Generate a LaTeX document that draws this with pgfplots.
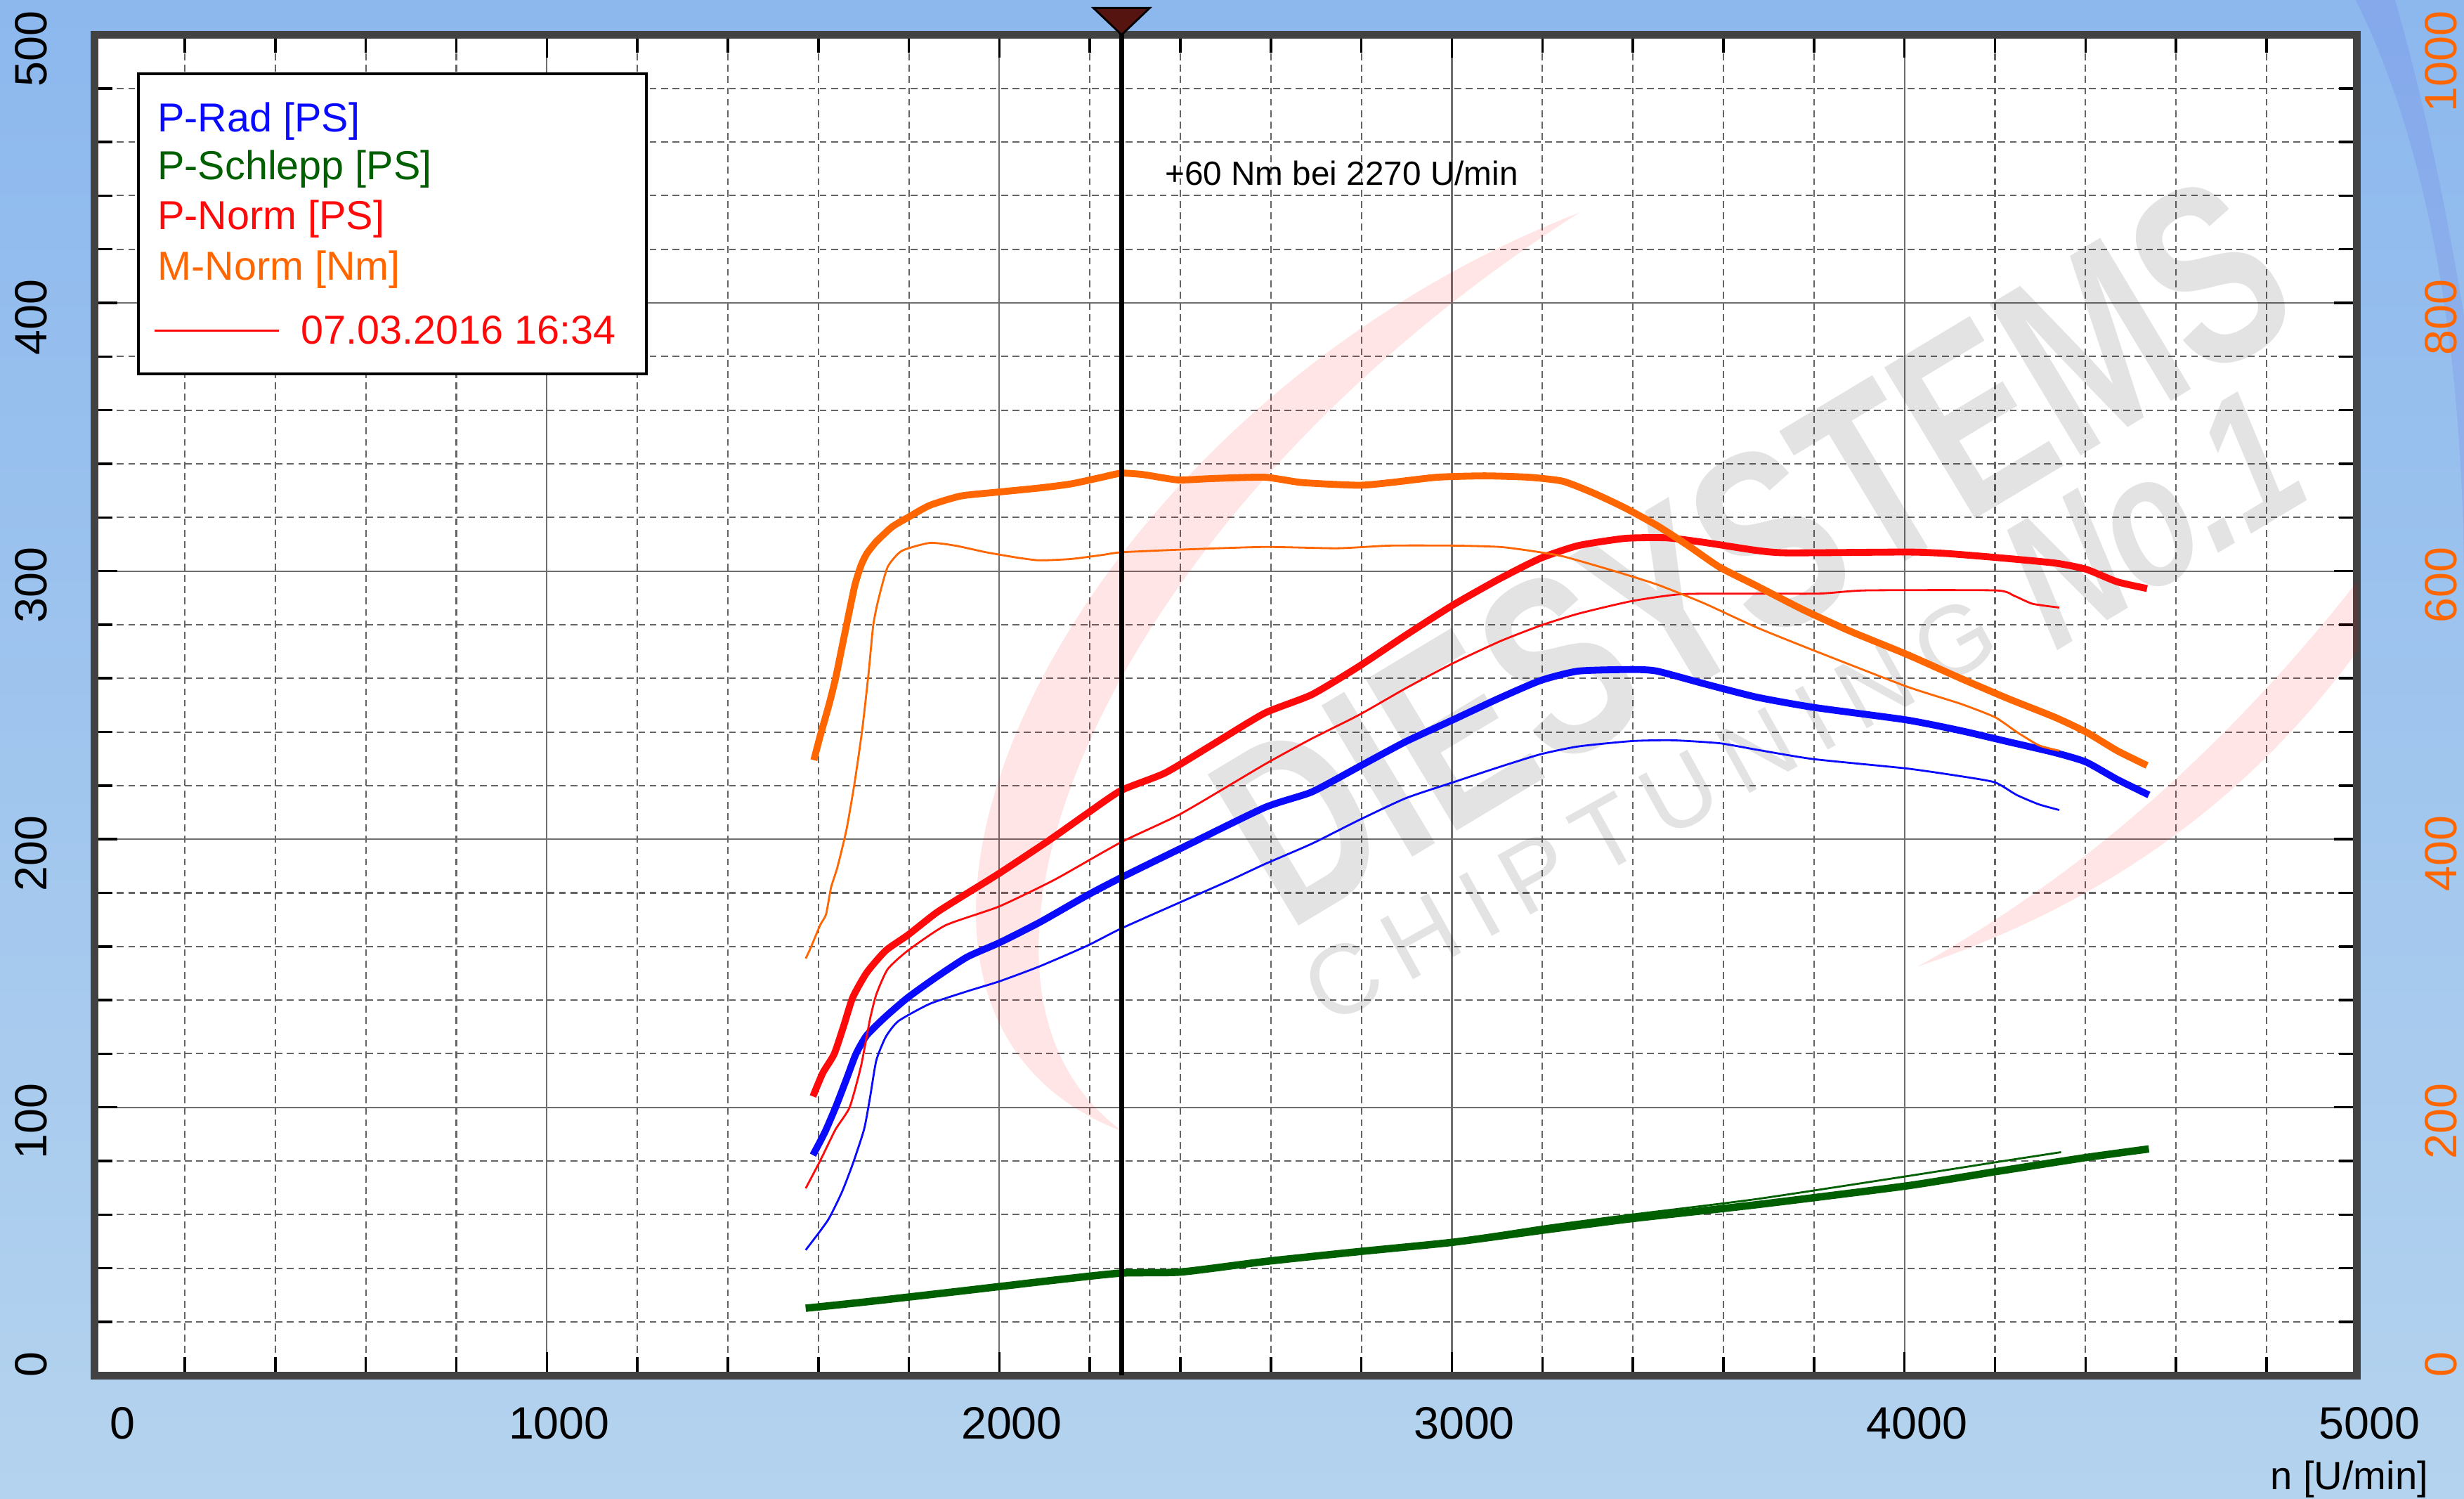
\documentclass[border=0pt]{standalone}
\usepackage{fontspec}
\setmainfont{Liberation Sans}
\usepackage{graphicx}
\usepackage{pgfplots}
\pgfplotsset{compat=1.18}

\definecolor{bgtop}{RGB}{140,184,238}
\definecolor{bgbot}{RGB}{180,211,238}
\definecolor{framec}{RGB}{66,66,66}
\definecolor{gridc}{RGB}{100,100,100}
\definecolor{majorc}{RGB}{110,110,110}
\definecolor{cRad}{RGB}{10,10,255}
\definecolor{cSch}{RGB}{0,95,0}
\definecolor{cNorm}{RGB}{255,10,10}
\definecolor{cM}{RGB}{255,102,0}
\definecolor{cursorc}{RGB}{85,20,15}

\begin{document}
\begin{tikzpicture}
% background
\fill[top color=bgtop, bottom color=bgbot] (0,0) rectangle (500pt,304pt);
\fill[blue!60!violet, opacity=0.08] (478pt,304pt) .. controls (500pt,260pt) and (500pt,200pt) .. (500pt,180pt)
  -- (500pt,240pt) .. controls (495pt,270pt) and (490pt,290pt) .. (486pt,304pt) -- cycle;

% power axis (PS)
\begin{axis}[
  at={(19.13pt,24.94pt)}, anchor=south west,
  scale only axis, width=459.16pt, height=272pt,
  xmin=0, xmax=5000, ymin=0, ymax=500,
  xtick={0,1000,...,5000}, minor xtick={200,400,...,4800},
  xticklabels={\hspace*{6.4pt}0,1000,2000,3000,4000,5000},
  ytick={0,100,...,500}, minor ytick={20,40,...,480},
  grid=both,
  major grid style={solid, majorc, line width=0.3pt},
  minor grid style={gridc, line width=0.3pt, dash pattern=on 1.4pt off 0.9pt},
  tick pos=both, tick align=inside,
  major tick length=4.7pt, minor tick length=3.7pt,
  tick style={black, line width=0.5pt},
  axis line style={framec, line width=1.6pt},
  axis background/.style={fill=white},
  ticklabel style={font=\fontsize{9.2}{10}\selectfont, inner sep=0pt},
  xticklabel style={anchor=center, yshift=-9.75pt, xshift=2.5pt},
  yticklabel style={xshift=-12.75pt, yshift=5pt, rotate=90, anchor=east},
  /pgf/number format/assume math mode=true,
  /pgf/number format/1000 sep={},
  clip=false,
]
% watermark
\fill[red, opacity=0.1] (axis cs:3282,433.7) .. controls (axis cs:2133,358.6) and (axis cs:1534,138) .. (axis cs:2274,90.9)
  .. controls (axis cs:1806,147.2) and (axis cs:2242,321.8) .. (axis cs:3282,433.7) -- cycle;
\fill[red, opacity=0.1] (axis cs:5000,296) .. controls (axis cs:4692,230) and (axis cs:4365,184) .. (axis cs:4029,152.5)
  .. controls (axis cs:4419,174.6) and (axis cs:4746,211.5) .. (axis cs:5000,270) -- cycle;
\node[rotate=31, text=black, opacity=0.11, font=\bfseries\fontsize{52}{52}\selectfont, inner sep=0pt]
  at (axis cs:3664,307.8) {\scalebox{0.72}[1]{DIESYSTEMS}};
\node[rotate=29, text=black, opacity=0.11, font=\fontsize{20}{20}\selectfont, inner sep=0pt]
  at (axis cs:3438,211) {C\hspace{3.6pt}H\hspace{3.6pt}I\hspace{3.6pt}P\hspace{3.6pt}T\hspace{3.6pt}U\hspace{3.6pt}N\hspace{3.6pt}I\hspace{3.6pt}N\hspace{3.6pt}G};
\node[rotate=31, text=black, opacity=0.11, font=\bfseries\itshape\fontsize{38}{38}\selectfont, inner sep=0pt]
  at (axis cs:4549,319.5) {\scalebox{0.75}[1]{No.1}};

% P-Schlepp thin
\addplot[cSch, line width=0.4pt, smooth, tension=0.35] coordinates {
(1572,25.6) (1707,28) (1915,32) (2123,36.1) (2269,38.7) (2401,39.1) (2586,43) (2794,46.7)
(3002,50.5) (3210,55.8) (3397,60) (3673,65.8) (4004,74.3) (4200,79.5) (4346,83.3)};
% P-Schlepp thick
\addplot[cSch, line width=1.5pt, smooth, tension=0.35] coordinates {
(1572,25.1) (1707,27.5) (1915,31.5) (2123,35.6) (2269,38.2) (2401,38.6) (2586,42.5) (2794,46.2)
(3002,49.7) (3210,54.4) (3397,58.5) (3673,63.7) (4004,70.7) (4200,76) (4401,81.3) (4540,84.5)};

% P-Rad thin
\addplot[cRad, line width=0.4pt, smooth, tension=0.35] coordinates {
(1572,46.8) (1621,57.9) (1652,68.4) (1676,78.9) (1701,91.8) (1714,103.5) (1728,117.5) (1749,126.3)
(1777,132.2) (1846,138.6) (1929,143.3) (2000,147) (2089,152.6) (2193,160.2) (2269,166.7) (2401,176.6)
(2511,184.8) (2586,190.7) (2690,198.3) (2794,207.1) (2898,215.3) (3002,221.2) (3106,227) (3196,231.7)
(3279,234.6) (3397,236.6) (3487,236.9) (3591,235.8) (3673,233.4) (3798,229.9) (4004,226.4) (4124,223.5)
(4200,221.2) (4248,216.5) (4297,213) (4342,210.9)};
% P-Rad thick
\addplot[cRad, line width=1.4pt, smooth, tension=0.35] coordinates {
(1588,82.2) (1614,90.6) (1638,100) (1662,110.5) (1683,119.9) (1707,126.9) (1749,133.9) (1798,141)
(1860,148.5) (1929,156.1) (2000,161.4) (2089,169) (2193,179) (2269,185.7) (2401,196.6) (2586,211.8)
(2690,217.6) (2794,227) (2898,236.4) (3002,244.5) (3106,252.7) (3196,259.2) (3279,262.7) (3397,263.3)
(3453,262.7) (3557,258) (3673,253) (3798,249.2) (4004,244.5) (4124,240.5) (4228,236.4) (4332,232.3)
(4401,228.8) (4470,222.3) (4540,216.5)};

% P-Norm thin
\addplot[cNorm, line width=0.4pt, smooth, tension=0.35] coordinates {
(1572,69.8) (1604,80.1) (1638,91.8) (1669,100) (1694,115.2) (1714,132.8) (1728,142.1) (1753,151.5)
(1798,158.5) (1881,167.9) (1999,174.9) (2123,185) (2269,198.9) (2401,209.5) (2586,227.9) (2690,237.5)
(2794,246.3) (2898,256.3) (3002,265.6) (3106,273.8) (3196,279.7) (3279,284.1) (3397,288.8) (3508,291.4)
(3673,291.6) (3812,291.6) (3916,292.8) (4200,292.8) (4242,290.8) (4283,287.8) (4342,286.4)};
% P-Norm thick
\addplot[cNorm, line width=1.4pt, smooth, tension=0.35] coordinates {
(1588,104.1) (1610,112.9) (1635,119.9) (1656,130.4) (1676,141) (1707,150.3) (1749,158.5) (1798,164.3)
(1860,172.5) (1915,178.4) (1999,187.2) (2109,199.5) (2193,209.5) (2269,218.2) (2366,224.7) (2470,235.2)
(2586,247) (2690,253.9) (2794,264.4) (2898,276.1) (3002,287.3) (3106,297.2) (3196,304.8) (3279,309.5)
(3383,312.2) (3474,312.4) (3557,310.7) (3673,307.7) (3742,306.8) (4004,307.1) (4089,306.6) (4200,305.1)
(4332,303) (4401,300.7) (4470,296) (4536,293.5)};
\end{axis}

% torque axis (Nm)
\begin{axis}[
  at={(19.13pt,24.94pt)}, anchor=south west,
  scale only axis, width=459.16pt, height=272pt,
  xmin=0, xmax=5000, ymin=0, ymax=1000,
  axis x line=none, axis y line*=right,
  y axis line style={draw=none},
  ytick={0,200,...,1000},
  major tick length=0pt, tick style={draw=none},
  yticklabel style={font=\fontsize{9.2}{10}\selectfont, inner sep=0pt, text=cM,
    xshift=17pt, yshift=5pt, rotate=90, anchor=east},
  /pgf/number format/assume math mode=true,
  /pgf/number format/1000 sep={},
  clip=false,
]
% M-Norm thin
\addplot[cM, line width=0.4pt, smooth, tension=0.35] coordinates {
(1572,311) (1583,319) (1604,336) (1617,344) (1628,364) (1642,379) (1662,407) (1680,442)
(1697,482) (1711,524) (1721,559) (1732,578) (1753,603) (1784,615) (1846,621) (1902,619)
(1971,614) (2040,610) (2089,608) (2158,609) (2227,612) (2269,614) (2401,616) (2586,618)
(2746,617) (2864,619) (3002,619) (3106,618) (3176,615) (3245,611) (3349,601) (3453,590)
(3557,576) (3673,558) (3798,541) (4004,514) (4124,501) (4200,491) (4248,480) (4297,470) (4342,466)};
% M-Norm thick
\addplot[cM, line width=1.4pt, smooth, tension=0.35] coordinates {
(1590,459) (1604,477) (1624,501) (1638,520) (1652,543) (1669,571) (1681,590) (1694,604)
(1707,613) (1728,622) (1763,633) (1798,640) (1846,649) (1915,656) (2000,659) (2089,662)
(2158,665) (2227,670) (2269,673) (2317,672) (2394,668) (2470,669) (2586,670) (2669,666)
(2794,664) (2864,666) (2968,670) (3072,671) (3169,670) (3245,667) (3314,658) (3383,647)
(3453,634) (3522,619) (3591,603) (3673,589) (3777,571) (3881,555) (4004,538) (4124,520)
(4228,505) (4332,491) (4401,480) (4470,466) (4536,455)};

% cursor at 2270 U/min
\addplot[black, line width=1pt] coordinates {(2270,0) (2270,1000)};
\addplot[only marks, mark=triangle*, mark size=6.6pt,
  mark options={rotate=180, yscale=0.55, fill=cursorc, draw=none}] coordinates {(2270,1013.3)};
\node[anchor=west, inner sep=0pt, font=\fontsize{6.8}{8}\selectfont] at (axis cs:2364,897) {+60 Nm bei 2270 U/min};
\end{axis}

% legend
\draw[black, line width=0.6pt, fill=white] (28.1pt,228.1pt) rectangle (131.2pt,289pt);
\begin{scope}[every node/.style={anchor=base west, inner sep=0pt, font=\fontsize{8.2}{9}\selectfont}]
\node[text=cRad] at (31.8pt,277.3pt) {P-Rad [PS]};
\node[text=cSch] at (31.8pt,267.5pt) {P-Schlepp [PS]};
\node[text=cNorm] at (31.8pt,257.4pt) {P-Norm [PS]};
\node[text=cM] at (31.8pt,247.2pt) {M-Norm [Nm]};
\node[text=cNorm] at (60.9pt,234.2pt) {07.03.2016 16:34};
\end{scope}
\draw[cNorm, line width=0.4pt] (31.4pt,236.9pt) -- (56.6pt,236.9pt);

% x axis name
\node[anchor=east, inner sep=0pt, font=\fontsize{8}{9}\selectfont] at (492.9pt,3.9pt) {n [U/min]};

\pgfresetboundingbox
\useasboundingbox (0,0) rectangle (500pt,304pt);
\end{tikzpicture}
\end{document}
